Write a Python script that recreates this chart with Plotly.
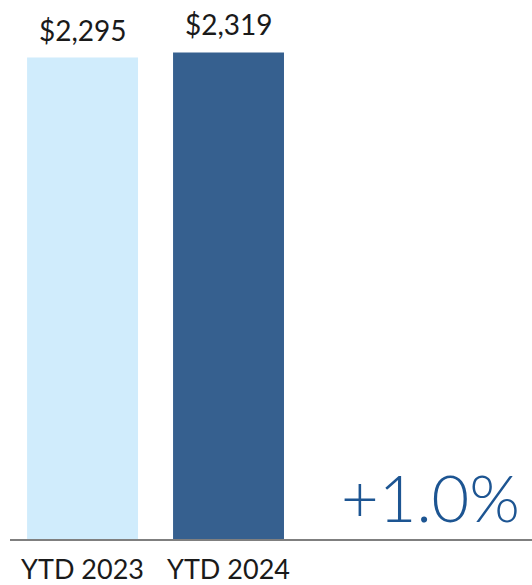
import plotly.graph_objects as go

categories = ["YTD 2023", "YTD 2024"]
values = [2295, 2319]
value_labels = ["$2,295", "$2,319"]
bar_colors = ["#d0ecfc", "#36608f"]
change_label = "+1.0%"

FONT = "Lato"

fig = go.Figure()
fig.add_trace(go.Bar(
    x=categories, y=values,
    marker=dict(color=bar_colors, line=dict(width=0)),
    width=0.76,
    hoverinfo="skip",
))

for c, v, t in zip(categories, values, value_labels):
    fig.add_annotation(x=c, y=v, text=t, showarrow=False, yanchor="bottom",
                       yshift=9, font=dict(family=FONT, size=28, color="#1a1a1a"))

fig.add_annotation(xref="paper", yref="paper", x=0.981, y=0.079, text=change_label,
                   showarrow=False, xanchor="right", yanchor="middle",
                   font=dict(family=FONT, size=65, color="#1d5592", weight=300))

fig.update_layout(
    width=532, height=585,
    margin=dict(l=10, r=0, t=8, b=46, autoexpand=False),
    paper_bgcolor="white", plot_bgcolor="white",
    showlegend=False,
    xaxis=dict(range=[-0.497, 3.079], showgrid=False, zeroline=False,
               showline=True, linecolor="#7f7f7f", linewidth=2,
               ticks="", ticklabelstandoff=6,
               tickfont=dict(family=FONT, size=27, color="#1a1a1a")),
    yaxis=dict(range=[0, 2531], visible=False, showgrid=False, zeroline=False),
)

fig.write_html(
    "out.html",
    config={"displayModeBar": False},
    post_script="document.body.style.margin='0';document.documentElement.style.overflow='hidden';document.body.style.overflow='hidden';",
)
